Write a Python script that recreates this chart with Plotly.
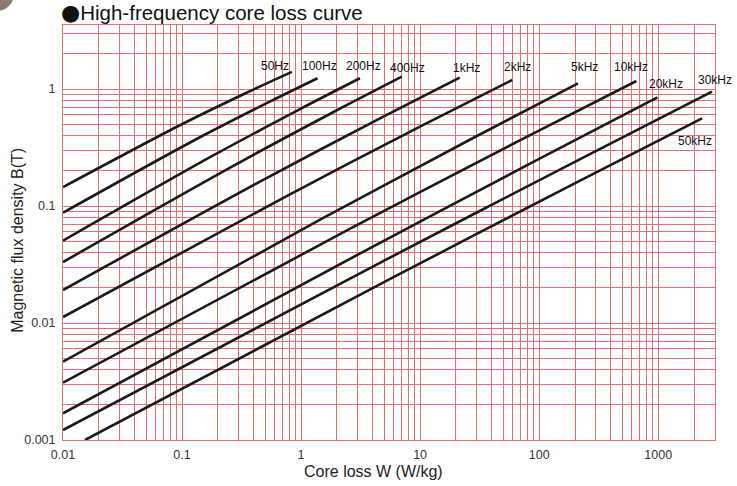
import math
import plotly.graph_objects as go

# ---- data ----
freq_labels = ["50Hz", "100Hz", "200Hz", "400Hz", "1kHz", "2kHz",
               "5kHz", "10kHz", "20kHz", "30kHz", "50kHz"]

w_50hz = [0.01, 0.0915, 0.345, 0.837]
b_50hz = [0.145, 0.478, 0.924, 1.40]
w_100hz = [0.01, 0.117, 0.514, 1.375]
b_100hz = [0.0876, 0.349, 0.756, 1.235]
w_200hz = [0.01, 0.1765, 0.989, 3.12]
b_200hz = [0.0505, 0.265, 0.677, 1.235]
w_400hz = [0.01, 0.265, 1.893, 7.02]
b_400hz = [0.0332, 0.218, 0.639, 1.274]
w_1khz = [0.01, 0.464, 4.64, 21.5]
b_1khz = [0.01914, 0.164, 0.563, 1.249]
w_2khz = [0.01, 0.771, 10.45, 59.4]
b_2khz = [0.01125, 0.1229, 0.4886, 1.194]
w_5khz = [0.01, 1.457, 28.9, 212]
b_5khz = [0.00467, 0.0767, 0.3888, 1.119]
w_10khz = [0.01, 2.562, 71.4, 656]
b_10khz = [0.00309, 0.0638, 0.3713, 1.171]
w_20khz = [0.01, 3.138, 98.9, 985]
b_20khz = [0.00169, 0.0394, 0.2512, 0.849]
w_30khz = [0.01, 5.32, 229.6, 2829]
b_30khz = [0.001218, 0.0353, 0.2568, 0.948]
w_50khz = [0.0153, 5.975, 214.4, 2333]
b_50khz = [0.001, 0.02465, 0.1625, 0.5618]

x_tick_labels = ["0.01", "0.1", "1", "10", "100", "1000"]
y_tick_labels = ["0.001", "0.01", "0.1", "1"]

w_series = [w_50hz, w_100hz, w_200hz, w_400hz, w_1khz, w_2khz,
            w_5khz, w_10khz, w_20khz, w_30khz, w_50khz]
b_series = [b_50hz, b_100hz, b_200hz, b_400hz, b_1khz, b_2khz,
            b_5khz, b_10khz, b_20khz, b_30khz, b_50khz]

# ---- style ----
label_shift = [(-17, 6), (2, 12), (4, 12), (6, 9), (7, 10), (5, 13),
               (6, 16), (-5, 14), (9, 13), (3, 12), (-7, -23)]
GRID = "#e27070"
FONT = "Liberation Sans, Arial, sans-serif"

fig = go.Figure()
for w, b, name in zip(w_series, b_series, freq_labels):
    fig.add_trace(go.Scatter(x=w, y=b, mode="lines", name=name,
                             line=dict(color="#1a1a1a", width=2.6, shape="spline", smoothing=0.8),
                             showlegend=False, hoverinfo="x+y+name"))

for w, b, name, (dx, dy) in zip(w_series, b_series, freq_labels, label_shift):
    fig.add_annotation(x=math.log10(w[-1]), y=math.log10(b[-1]), text=name,
                       showarrow=False, xshift=dx, yshift=dy,
                       font=dict(family=FONT, size=12, color="#111111"))


def log_grid(lo, hi):
    vals, texts = [], []
    for e in range(lo, hi + 1):
        for m in range(1, 10):
            vals.append(m * 10.0 ** e)
            texts.append("")
    return vals, texts


xv, xt = log_grid(-2, 3)
yv, yt = log_grid(-3, 0)
for lab in x_tick_labels:
    xt[xv.index(min(xv, key=lambda v: abs(v - float(lab))))] = lab
for lab in y_tick_labels:
    yt[yv.index(min(yv, key=lambda v: abs(v - float(lab))))] = lab

fig.update_xaxes(type="log", range=[-2, 3.4771], tickvals=xv, ticktext=xt,
                 showgrid=True, gridcolor=GRID, gridwidth=1, automargin=False,
                 showline=True, linecolor=GRID, linewidth=1, mirror=True,
                 ticks="", zeroline=False, ticklabelstandoff=3,
                 tickfont=dict(family=FONT, size=12.5, color="#333333"))
fig.update_yaxes(type="log", range=[-3, 0.547], tickvals=yv, ticktext=yt,
                 showgrid=True, gridcolor=GRID, gridwidth=1, automargin=False,
                 showline=True, linecolor=GRID, linewidth=1, mirror=True,
                 ticks="", zeroline=False, ticklabelstandoff=4,
                 tickfont=dict(family=FONT, size=12.5, color="#333333"))

# axis titles
fig.add_annotation(text="Core loss W (W/kg)", xref="paper", yref="paper",
                   x=0.4755, y=-0.076, xanchor="center", yanchor="middle", showarrow=False,
                   font=dict(family=FONT, size=16, color="#222222"))
fig.add_annotation(text="Magnetic flux density B(T)", xref="paper", yref="paper",
                   x=-0.069, y=0.48, xanchor="center", yanchor="middle", showarrow=False,
                   textangle=-90, font=dict(family=FONT, size=16, color="#222222"))

fig.add_shape(type="circle", xref="paper", yref="paper",
              x0=-0.1273, x1=-0.0752, y0=1.0337, y1=1.1157,
              fillcolor="#8c7b70", line=dict(width=0))

W, H = 737, 486
fig.update_layout(
    width=W, height=H,
    margin=dict(l=63, r=22, t=25, b=46, autoexpand=False),
    paper_bgcolor="white", plot_bgcolor="white",
    title=dict(text="<span style='font-family:DejaVu Sans;font-size:22px'>●</span>High-frequency core loss curve",
               x=61 / W, xanchor="left",
               y=1 - 13 / H, yanchor="middle", xref="container", yref="container",
               font=dict(family=FONT, size=20.5, color="#111111"), automargin=False),
)

fig.write_html("out.html", config={"displayModeBar": False},
               post_script="document.body.style.margin='0px';document.body.style.padding='0px';")
